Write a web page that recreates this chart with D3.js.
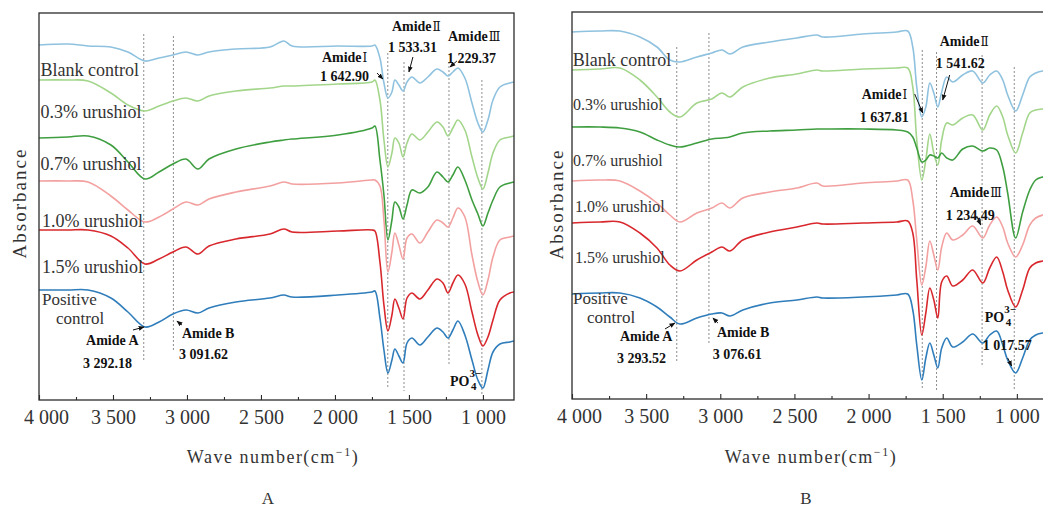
<!DOCTYPE html>
<html><head><meta charset="utf-8">
<script src="https://cdn.jsdelivr.net/npm/d3@7"></script>
<style>
body{margin:0;background:#fff;}
svg{display:block;}
text{font-family:"Liberation Serif","Times New Roman",serif;}
</style></head><body>
<svg id="chart" width="1043" height="510"></svg>
<script>
// ---------- data ----------
const seriesNames = ["Blank control","0.3% urushiol","0.7% urushiol","1.0% urushiol","1.5% urushiol","Positive control"];
const xTicks = [4000,3500,3000,2500,2000,1500,1000];
const xTickLabels = ["4 000","3 500","3 000","2 500","2 000","1 500","1 000"];
const xMinorTicks = [3750,3250,2750,2250,1750,1250];

// Panel A (wavenumber, cm-1) and absorbance (a.u., offset stacked)
const wnA = [4000,3804,3669,3514,3399,3284,3189,3095,3007,2926,2851,2669,2439,2345,2290,1980,1750,1730,1696,1669,1642,1615,1595,1568,1540,1513,1480,1426,1372,1311,1270,1236,1203,1169,1122,1074,1034,1000,966,932,885,818,790];
const blankA = [3.55,3.56,3.54,3.53,3.48,3.39,3.42,3.45,3.48,3.45,3.48,3.51,3.53,3.59,3.54,3.54,3.54,3.55,3.42,3.17,3.02,3.08,3.20,3.15,3.09,3.18,3.23,3.17,3.23,3.31,3.28,3.24,3.28,3.32,3.22,2.97,2.77,2.68,2.80,3.00,3.13,3.17,3.18];
const u03A = [3.20,3.20,3.19,3.07,2.95,2.89,2.94,2.99,3.02,2.99,3.04,3.09,3.12,3.14,3.14,3.16,3.18,3.20,3.00,2.60,2.33,2.47,2.62,2.57,2.43,2.57,2.66,2.60,2.68,2.78,2.73,2.64,2.72,2.80,2.70,2.43,2.22,2.11,2.27,2.47,2.60,2.63,2.64];
const u07A = [2.62,2.63,2.64,2.55,2.38,2.21,2.28,2.36,2.41,2.31,2.41,2.51,2.58,2.60,2.61,2.65,2.72,2.74,2.40,2.05,1.60,1.80,1.98,1.93,1.81,1.95,2.10,2.07,2.13,2.28,2.23,2.18,2.25,2.33,2.20,2.00,1.86,1.74,1.87,2.00,2.13,2.17,2.18];
const u10A = [2.19,2.19,2.18,2.04,1.90,1.78,1.83,1.91,1.98,1.95,2.01,2.08,2.14,2.18,2.16,2.17,2.20,2.20,2.14,1.80,1.28,1.48,1.67,1.55,1.41,1.62,1.66,1.57,1.68,1.80,1.77,1.73,1.82,1.92,1.83,1.45,1.18,1.05,1.20,1.43,1.60,1.63,1.64];
const u15A = [1.70,1.70,1.70,1.64,1.52,1.36,1.41,1.48,1.53,1.46,1.54,1.61,1.66,1.71,1.68,1.69,1.70,1.69,1.38,0.95,0.69,0.85,1.01,0.92,0.81,1.02,1.07,1.01,1.10,1.21,1.17,1.07,1.17,1.25,1.16,0.88,0.65,0.54,0.63,0.80,1.00,1.07,1.08];
const posA = [1.10,1.10,1.10,1.02,0.88,0.73,0.78,0.86,0.90,0.87,0.92,0.98,1.02,1.05,1.03,1.05,1.08,1.09,0.82,0.50,0.27,0.40,0.51,0.44,0.37,0.57,0.62,0.55,0.63,0.72,0.68,0.62,0.70,0.79,0.65,0.40,0.20,0.12,0.30,0.48,0.56,0.58,0.59];

// Panel B
const wnB = [4000,3811,3677,3542,3427,3340,3272,3158,3057,2989,2935,2848,2666,2484,2349,2308,2039,1810,1736,1702,1675,1641,1614,1587,1560,1533,1507,1473,1432,1365,1298,1230,1183,1136,1095,1062,1008,961,913,873,826,792];
const blankB = [3.67,3.68,3.68,3.62,3.52,3.39,3.37,3.42,3.46,3.49,3.45,3.52,3.57,3.61,3.64,3.62,3.65,3.67,3.68,3.52,3.12,2.82,2.92,3.16,3.06,2.92,3.07,3.22,3.17,3.24,3.28,3.16,3.24,3.28,3.19,3.04,2.88,3.04,3.22,3.26,3.28,3.28];
const u03B = [3.29,3.30,3.31,3.19,3.02,2.87,2.82,2.96,3.00,3.06,3.02,3.12,3.21,3.25,3.29,3.28,3.30,3.31,3.31,3.12,2.59,2.19,2.39,2.65,2.46,2.34,2.59,2.76,2.74,2.81,2.84,2.69,2.84,2.93,2.82,2.64,2.46,2.66,2.86,2.89,2.90,2.90];
const u07B = [2.72,2.72,2.71,2.67,2.59,2.54,2.52,2.56,2.60,2.61,2.62,2.66,2.68,2.69,2.70,2.70,2.70,2.69,2.67,2.62,2.51,2.37,2.39,2.44,2.43,2.41,2.46,2.41,2.39,2.50,2.53,2.48,2.51,2.49,2.32,2.06,1.61,1.87,2.09,2.19,2.22,2.23];
const u10B = [2.18,2.19,2.18,2.08,1.96,1.84,1.77,1.86,1.91,1.96,1.91,2.01,2.07,2.11,2.16,2.13,2.16,2.18,2.19,1.99,1.59,1.14,1.32,1.58,1.44,1.29,1.52,1.66,1.59,1.64,1.73,1.61,1.74,1.82,1.72,1.56,1.42,1.54,1.74,1.81,1.84,1.85];
const u15B = [1.76,1.77,1.77,1.66,1.51,1.34,1.28,1.39,1.47,1.52,1.48,1.59,1.67,1.72,1.76,1.75,1.76,1.77,1.78,1.66,1.19,0.64,0.86,1.11,0.99,0.81,1.17,1.23,1.13,1.19,1.29,1.16,1.31,1.42,1.27,1.09,0.92,1.09,1.31,1.36,1.38,1.39];
const posB = [1.05,1.06,1.06,1.01,0.92,0.82,0.75,0.81,0.85,0.86,0.83,0.89,0.96,0.99,1.02,1.01,1.02,1.04,1.05,0.89,0.54,0.19,0.41,0.56,0.44,0.31,0.51,0.61,0.52,0.57,0.65,0.56,0.64,0.68,0.54,0.39,0.26,0.41,0.59,0.64,0.66,0.66];

// marked band positions: [wavenumber, top, bottom]
const bandsA = [[3292.18,3.66,0.38],[3091.62,3.64,0.49],[1642.90,3.47,0.12],[1533.31,3.38,0.09],[1229.37,3.38,0.34],[1007,3.20,0.04]];
const bandsB = [[3293.52,3.52,0.36],[3076.61,3.66,0.56],[1637.81,3.49,0.09],[1541.62,3.47,0.09],[1234.49,3.44,0.32],[1017.57,3.32,0.09]];
// annotation texts [text, roman numeral, wavenumber, absorbance]
const notesA = [["Amide","Ⅰ",2088,3.38],["1 642.90","",2101,3.19],["Amide","Ⅱ",1615,3.69],["1 533.31","",1642,3.48],["Amide","Ⅲ",1236,3.59],["1 229.37","",1243,3.37],["Amide A","",3682,0.55],["3 292.18","",3703,0.32],["Amide B","",3034,0.62],["3 091.62","",3054,0.41]];
const notesB = [["Amide","Ⅱ",1520,3.53],["1 541.62","",1547,3.31],["Amide","Ⅰ",2046,3.00],["1 637.81","",2059,2.77],["Amide","Ⅲ",1453,2.02],["1 234.49","",1480,1.79],["Amide A","",3677,0.58],["3 293.52","",3697,0.36],["Amide B","",3023,0.62],["3 076.61","",3050,0.40],["1 017.57","",1230,0.49]];
// arrows [w1,a1,w2,a2]
const arrowsA = [[1716,3.27,1676,3.21],[1473,3.43,1500,3.28],[1176,3.39,1223,3.33],[3365,0.70,3290,0.73],[3034,0.75,3068,0.79]];
const arrowsB = [[1453,3.24,1500,2.99],[1689,3.05,1635,2.86],[1271,1.83,1244,1.74],[3373,0.70,3306,0.76],[3016,0.76,3050,0.81],[1062,0.41,1035,0.33]];
const poA = [1223,0.14], poB = [1217,0.77];
// series label anchors [wavenumber, absorbance]
const seriesLabelPosA = [[3990,3.24],[3990,2.82],[3990,2.30],[3980,1.73],[3980,1.27],[3980,0.95]];
const seriesLabelPosB = [[3995,3.33],[3993,2.89],[3993,2.33],[3980,1.87],[3980,1.36],[3993,0.95]];

// ---------- styles ----------
const colors = ["#8fc2df","#a3d68b","#3f9f40","#f3a0a0","#d8282d","#2f7dbb"];

const svg = d3.select("#chart");
svg.append("rect").attr("width",1043).attr("height",510).attr("fill","#fff");
const defs = svg.append("defs");
defs.append("marker").attr("id","ah").attr("viewBox","0 0 10 10").attr("refX",9).attr("refY",5)
  .attr("markerWidth",6).attr("markerHeight",6).attr("markerUnits","userSpaceOnUse").attr("orient","auto")
  .append("path").attr("d","M0,1 L10,5 L0,9 z").attr("fill","#111");

function panel(o){
  const x = d3.scaleLinear().domain([4000,790]).range([o.left,o.right]);
  const y = d3.scaleLinear().domain([0,3.87]).range([o.bottom,o.top]);
  const g = svg.append("g");
  defs.append("clipPath").attr("id","clip"+o.id).append("rect")
    .attr("x",o.left).attr("y",o.top).attr("width",o.right-o.left).attr("height",o.bottom-o.top);

  // dashed band lines
  g.append("g").selectAll("line").data(o.bands).join("line")
    .attr("x1",d=>x(d[0])).attr("x2",d=>x(d[0])).attr("y1",d=>y(d[1])).attr("y2",d=>y(d[2]))
    .attr("stroke","#707070").attr("stroke-width",0.8).attr("stroke-dasharray","2,2");

  // spectra
  const line = d3.line().x((d,i)=>x(o.wn[i])).y(d=>y(d)).curve(d3.curveCatmullRom.alpha(0.5));
  const cg = g.append("g").attr("clip-path",`url(#clip${o.id})`);
  o.series.forEach((s,i)=>{
    cg.append("path").attr("d",line(s)).attr("fill","none").attr("stroke",colors[i])
      .attr("stroke-width",1.6).attr("stroke-linejoin","round");
  });

  // frame
  g.append("rect").attr("x",o.left).attr("y",o.top).attr("width",o.right-o.left).attr("height",o.bottom-o.top)
    .attr("fill","none").attr("stroke","#2b2b2b").attr("stroke-width",1.3);

  // axes
  const ax = g.append("g").attr("transform",`translate(0,${o.bottom})`)
    .call(d3.axisBottom(x).tickValues(xTicks).tickFormat((d,i)=>xTickLabels[i]).tickSize(-5).tickSizeOuter(0).tickPadding(10));
  ax.select(".domain").remove();
  ax.selectAll("line").attr("stroke","#2b2b2b").attr("stroke-width",1.1);
  ax.selectAll("text").attr("font-family","Liberation Serif, serif").attr("font-size",20).attr("fill","#333");
  ax.selectAll(".tick").filter(d=>d===4000).select("text").attr("dx",7);
  const axm = g.append("g").attr("transform",`translate(0,${o.bottom})`)
    .call(d3.axisBottom(x).tickValues(xMinorTicks).tickFormat("").tickSize(-3).tickSizeOuter(0));
  axm.select(".domain").remove();
  axm.selectAll("line").attr("stroke","#2b2b2b").attr("stroke-width",1.1);

  // axis titles
  g.append("text").attr("transform",`translate(${o.ylabX},${o.ylabY}) rotate(-90)`)
    .attr("text-anchor","middle").attr("font-size",19).attr("letter-spacing","2px").attr("fill","#333")
    .text("Absorbance");
  const xt = g.append("text").attr("x",o.xtitleX).attr("y",463).attr("text-anchor","middle")
    .attr("font-size",18).attr("letter-spacing","1.5px").attr("fill","#333");
  xt.append("tspan").text("Wave number(cm");
  xt.append("tspan").text("−1").attr("font-size",12).attr("dy",-7);
  xt.append("tspan").text(")").attr("dy",7);
  g.append("text").attr("x",o.xtitleX-5).attr("y",504).attr("text-anchor","middle").attr("font-size",17)
    .attr("fill","#333").text(o.id);

  // series labels
  seriesNames.forEach((n,i)=>{
    const p = o.labelPos[i];
    const size = o.labelSize[i];
    if(i===5){
      const t = g.append("text").attr("x",x(p[0])).attr("y",y(p[1])).attr("font-size",17).attr("fill","#333");
      t.append("tspan").attr("x",x(p[0])).text("Positive");
      t.append("tspan").attr("x",x(p[0])+14).attr("dy",19).text("control");
    } else {
      g.append("text").attr("x",x(p[0])).attr("y",y(p[1])).attr("font-size",size).attr("fill","#333").text(n);
    }
  });

  // annotations
  o.notes.forEach(d=>{
    const t = g.append("text").attr("x",x(d[2])).attr("y",y(d[3])).attr("font-size",14)
      .attr("font-weight","bold").attr("fill","#111");
    t.append("tspan").text(d[0]);
    if(d[1]) t.append("tspan").text(d[1]).attr("font-family","DejaVu Serif, serif")
      .attr("font-weight","normal").attr("font-size",12).attr("dx",1);
  });
  g.append("g").selectAll("line").data(o.arrows).join("line")
    .attr("x1",d=>x(d[0])).attr("y1",d=>y(d[1])).attr("x2",d=>x(d[2])).attr("y2",d=>y(d[3]))
    .attr("stroke","#111").attr("stroke-width",1).attr("marker-end","url(#ah)");
  const px = x(o.po[0]), py = y(o.po[1]);
  const po = g.append("text").attr("x",px).attr("y",py).attr("font-size",14).attr("font-weight","bold").attr("fill","#111");
  po.append("tspan").text("PO");
  po.append("tspan").attr("font-size",11).attr("dy",-9).text("3−");
  po.append("tspan").attr("font-size",11).attr("x",px+21).attr("dy",13).text("4");
}

panel({id:"A", left:39, right:514, top:13, bottom:400, wn:wnA,
  series:[blankA,u03A,u07A,u10A,u15A,posA], bands:bandsA, notes:notesA, arrows:arrowsA, po:poA,
  labelPos:seriesLabelPosA, labelSize:[18,18,18,18,18,18], ylabX:26, ylabY:203, xtitleX:273});
panel({id:"B", left:572, right:1048, top:12, bottom:399, wn:wnB,
  series:[blankB,u03B,u07B,u10B,u15B,posB], bands:bandsB, notes:notesB, arrows:arrowsB, po:poB,
  labelPos:seriesLabelPosB, labelSize:[18,16,16,16,16,18], ylabX:563, ylabY:204, xtitleX:811});
</script>
</body></html>
